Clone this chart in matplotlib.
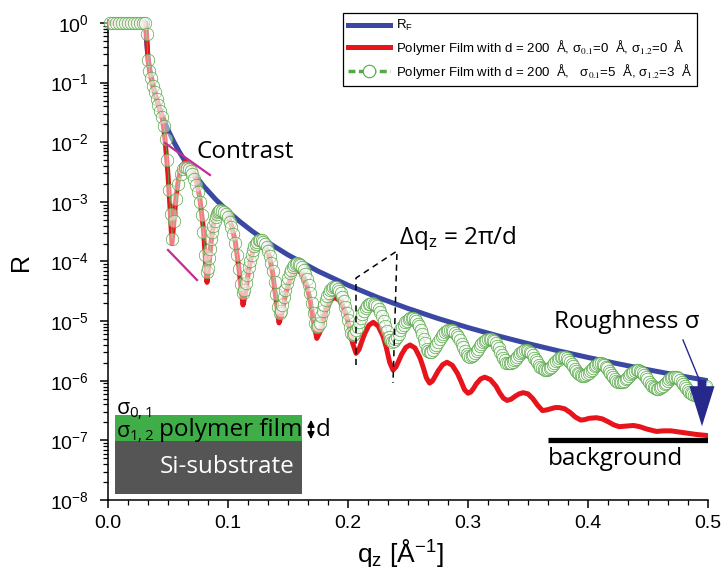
import matplotlib
matplotlib.use("Agg")
import matplotlib.pyplot as plt
import numpy as np
from matplotlib.patches import Rectangle, FancyArrowPatch
from matplotlib.lines import Line2D

plt.rcParams['font.family'] = ['Liberation Sans', 'DejaVu Sans']
plt.rcParams['mathtext.fontset'] = 'stix'
plt.rcParams['mathtext.default'] = 'regular'

# ---------------- data ----------------
# Fresnel reflectivity of the bare substrate
q_rf = [0.0, 0.0316, 0.0318, 0.032, 0.033, 0.0335, 0.034, 0.035, 0.0375, 0.04, 0.0425,
        0.045, 0.05, 0.055, 0.06, 0.065, 0.07, 0.08, 0.09, 0.10, 0.11, 0.12, 0.135,
        0.15, 0.175, 0.20, 0.225, 0.25, 0.275, 0.30, 0.325, 0.35, 0.375, 0.40,
        0.425, 0.45, 0.475, 0.50]
r_rf = [1.0, 1.0, 0.655, 0.539, 0.3086, 0.2537, 0.2141, 0.16, 0.0904, 0.0578, 0.03958,
        0.0284, 0.01613, 0.0100, 0.00659, 0.004544, 0.00325, 0.001805, 0.001085, 6.93e-4,
        4.648e-4, 3.24e-4, 1.99e-4, 1.29e-4, 6.89e-5, 4.01e-5, 2.487e-5, 1.63e-5,
        1.107e-5, 7.80e-6, 5.655e-6, 4.20e-6, 3.184e-6, 2.46e-6, 1.926e-6, 1.53e-6,
        1.232e-6, 1.00e-6]

# film without roughness (log10 R)
q_smooth = [0.000, 0.031, 0.0318, 0.0325, 0.0333, 0.035, 0.0375, 0.040, 0.043, 0.0455,
            0.0475, 0.050, 0.0517, 0.0533,
            0.0551, 0.0569, 0.0588, 0.0615, 0.0642,
            0.0688, 0.0734, 0.0764, 0.0795, 0.0825,
            0.0843, 0.0861, 0.0879, 0.0906, 0.0933,
            0.0981, 0.1029, 0.1061, 0.1093, 0.1125,
            0.1149, 0.1172, 0.1196, 0.1231, 0.1267,
            0.1307, 0.1346, 0.1372, 0.1399, 0.1425,
            0.1450, 0.1475, 0.1500, 0.1538, 0.1575,
            0.1616, 0.1658, 0.1685, 0.1713, 0.1740,
            0.1765, 0.1790, 0.1815, 0.1853, 0.1890,
            0.1934, 0.1979, 0.2008, 0.2037, 0.2067,
            0.2091, 0.2115, 0.2139, 0.2174, 0.2210,
            0.2251, 0.2293, 0.2320, 0.2347, 0.2375,
            0.2399, 0.2422, 0.2446, 0.2482, 0.2517,
            0.2558, 0.2599, 0.2626, 0.2653, 0.2680,
            0.2704, 0.2728, 0.2753, 0.2789, 0.2825,
            0.2869, 0.2913, 0.2942, 0.2971, 0.3000,
            0.3023, 0.3047, 0.3070, 0.3105, 0.3140,
            0.3186, 0.3233, 0.3263, 0.3294, 0.3325,
            0.3359, 0.3393, 0.3426, 0.3460,
            0.3500, 0.3540, 0.3580, 0.3620,
            0.3655, 0.3690, 0.3725, 0.3760,
            0.3805, 0.3850, 0.3895, 0.3940,
            0.3975, 0.4010, 0.4070,
            0.4120, 0.4170, 0.4215, 0.4260,
            0.4320, 0.4380,
            0.4430, 0.4490, 0.4570,
            0.4630, 0.4690,
            0.4760, 0.4830, 0.4900, 0.5000]
lg_smooth = [0.0, 0.0, -0.10, -0.30, -0.62, -0.85, -1.07, -1.24, -1.45, -1.62,
             -1.95, -2.55, -3.10, -3.70,
             -3.30, -2.88, -2.61, -2.40, -2.33,
             -2.40, -2.63, -2.92, -3.45, -4.35,
             -4.02, -3.64, -3.38, -3.16, -3.10,
             -3.17, -3.39, -3.67, -4.15, -4.73,
             -4.49, -4.15, -3.91, -3.70, -3.64,
             -3.71, -3.92, -4.19, -4.62, -5.03,
             -4.87, -4.60, -4.39, -4.20, -4.14,
             -4.20, -4.41, -4.66, -5.02, -5.29,
             -5.19, -4.99, -4.82, -4.65, -4.60,
             -4.66, -4.85, -5.07, -5.36, -5.54,
             -5.48, -5.34, -5.21, -5.07, -5.02,
             -5.08, -5.26, -5.45, -5.69, -5.82,
             -5.77, -5.67, -5.56, -5.44, -5.40,
             -5.45, -5.61, -5.77, -5.95, -6.04,
             -6.005, -5.92, -5.83, -5.73, -5.69,
             -5.74, -5.88, -6.01, -6.15, -6.21,
             -6.19, -6.125, -6.05, -5.97, -5.94,
             -5.98, -6.09, -6.20, -6.29, -6.33,
             -6.31, -6.26, -6.22, -6.20,
             -6.22, -6.30, -6.41, -6.50,
             -6.49, -6.47, -6.45, -6.45,
             -6.47, -6.53, -6.61, -6.66,
             -6.65, -6.63, -6.62,
             -6.64, -6.69, -6.74, -6.77,
             -6.76, -6.75,
             -6.77, -6.81, -6.85,
             -6.84, -6.84,
             -6.86, -6.88, -6.90, -6.92]

# film with interface roughness (log10 R), main sampling
q_rough = [0.0020, 0.0045, 0.0070, 0.0095, 0.0120, 0.0145, 0.0170, 0.0195, 0.0220,
           0.0245, 0.0270, 0.0295, 0.0310,
           0.0322, 0.0333, 0.0345, 0.0360, 0.0375, 0.0390, 0.0405, 0.0420, 0.0435,
           0.0450, 0.0465, 0.0480, 0.0495, 0.0510, 0.0522, 0.0533,
           0.0551, 0.0569, 0.0587, 0.0606, 0.0624, 0.0642,
           0.0673, 0.0703, 0.0734, 0.0764, 0.0795, 0.0825,
           0.0843, 0.0861, 0.0879, 0.0897, 0.0915, 0.0933,
           0.0965, 0.0997, 0.1029, 0.1061, 0.1093, 0.1125,
           0.1149, 0.1172, 0.1196, 0.1220, 0.1243, 0.1267,
           0.1294, 0.1321, 0.1349, 0.1376, 0.1403, 0.1430,
           0.1454, 0.1478, 0.1503, 0.1527, 0.1551, 0.1575,
           0.1603, 0.1630, 0.1658, 0.1685, 0.1713, 0.1740,
           0.1765, 0.1790, 0.1815, 0.1840, 0.1865, 0.1890,
           0.1915, 0.1940, 0.1965, 0.1990, 0.2015, 0.2040,
           0.2067, 0.2093, 0.2120, 0.2147, 0.2173, 0.2200,
           0.2228, 0.2256, 0.2284, 0.2311, 0.2339, 0.2367,
           0.2395, 0.2422, 0.2450, 0.2478, 0.2505, 0.2533,
           0.2558, 0.2582, 0.2607, 0.2631, 0.2656, 0.2680,
           0.2708, 0.2737, 0.2765, 0.2793, 0.2822, 0.2850,
           0.2878, 0.2906, 0.2934, 0.2961, 0.2989, 0.3017,
           0.3044, 0.3071, 0.3099, 0.3126, 0.3153, 0.3180,
           0.3206, 0.3231, 0.3257, 0.3282, 0.3308,
           0.3333, 0.3359, 0.3385, 0.3410, 0.3436, 0.3462, 0.3488, 0.3514, 0.3540,
           0.3565, 0.3591, 0.3617, 0.3643, 0.3669, 0.3695, 0.3720, 0.3746, 0.3772,
           0.3798, 0.3824, 0.3850, 0.3875, 0.3901, 0.3927, 0.3953, 0.3979, 0.4005,
           0.4030, 0.4056, 0.4082, 0.4108, 0.4134, 0.4160, 0.4185, 0.4211, 0.4237,
           0.4263, 0.4289, 0.4315, 0.4340, 0.4366, 0.4392, 0.4418, 0.4444, 0.4470,
           0.4495, 0.4521, 0.4547, 0.4573, 0.4599, 0.4625, 0.4650, 0.4676, 0.4702,
           0.4728, 0.4754, 0.4780, 0.4805, 0.4831, 0.4857, 0.4883, 0.4909, 0.4935,
           0.4960, 0.4986]
lg_rough = [0.0, 0.0, 0.0, 0.0, 0.0, 0.0, 0.0, 0.0, 0.0, 0.0, 0.0, 0.0, 0.0,
            -0.18, -0.62, -0.80, -0.93, -1.05, -1.16, -1.27, -1.37, -1.47,
            -1.58, -1.72, -1.95, -2.30, -2.80, -3.20, -3.62,
            -3.32, -2.947, -2.695, -2.536, -2.448, -2.42,
            -2.45, -2.54, -2.71, -3.00, -3.50, -4.18,
            -3.94, -3.63, -3.40, -3.25, -3.167, -3.14,
            -3.169, -3.259, -3.424, -3.692, -4.119, -4.53,
            -4.36, -4.10, -3.889, -3.747, -3.666, -3.64,
            -3.668, -3.756, -3.915, -4.167, -4.54, -4.87,
            -4.73, -4.479, -4.274, -4.135, -4.056, -4.03,
            -4.057, -4.142, -4.295, -4.53, -4.86, -5.10,
            -5.027, -4.828, -4.652, -4.527, -4.454, -4.43,
            -4.455, -4.532, -4.666, -4.86, -5.10, -5.23,
            -5.141, -5.012, -4.882, -4.781, -4.72, -4.70,
            -4.723, -4.794, -4.913, -5.078, -5.259, -5.35,
            -5.308, -5.211, -5.106, -5.021, -4.968, -4.95,
            -4.972, -5.04, -5.154, -5.308, -5.471, -5.52,
            -5.482, -5.394, -5.296, -5.217, -5.167, -5.15,
            -5.169, -5.226, -5.319, -5.437, -5.55, -5.60,
            -5.572, -5.504, -5.425, -5.358, -5.315, -5.30,
            -5.318, -5.371, -5.456, -5.562, -5.660,
            -5.710, -5.700, -5.658, -5.597, -5.537, -5.495, -5.486, -5.513, -5.573,
            -5.651, -5.729, -5.788, -5.816, -5.806, -5.765, -5.706, -5.647, -5.607,
            -5.598, -5.625, -5.684, -5.760, -5.836, -5.894, -5.921, -5.912, -5.872,
            -5.814, -5.757, -5.717, -5.709, -5.736, -5.793, -5.868, -5.943, -5.999,
            -6.027, -6.018, -5.979, -5.923, -5.867, -5.829, -5.821, -5.847, -5.904,
            -5.977, -6.050, -6.106, -6.132, -6.123, -6.086, -6.031, -5.977, -5.940,
            -5.932, -5.958, -6.013, -6.085, -6.157, -6.211, -6.237, -6.230, -6.193,
            -6.140, -6.087]

# film with interface roughness, intermediate samples
q_rough_mid = [0.06573, 0.06878, 0.07183, 0.07488, 0.07793, 0.08098,
               0.0834, 0.0852, 0.0870, 0.0888, 0.0906, 0.0924,
               0.0949, 0.0981, 0.1013, 0.1045, 0.1077, 0.1109,
               0.11369, 0.11606, 0.11843, 0.12080, 0.12316, 0.12553,
               0.12806, 0.13078, 0.1335, 0.13621, 0.13893, 0.14164,
               0.14421, 0.14663, 0.14904, 0.15146, 0.15388, 0.15629,
               0.15888, 0.16163, 0.16438, 0.16713, 0.16988, 0.17263,
               0.17525, 0.17775, 0.18025, 0.18275, 0.18525, 0.18775,
               0.19025, 0.19275, 0.19525, 0.19775, 0.20025, 0.20275,
               0.20533, 0.2080, 0.21067, 0.21333, 0.2160, 0.21867,
               0.22139, 0.22417, 0.22696, 0.22974, 0.23253, 0.23531,
               0.23808, 0.24085, 0.24362, 0.24638, 0.24915, 0.25192,
               0.25453, 0.25698, 0.25943, 0.26188, 0.26433, 0.26678,
               0.26942, 0.27225, 0.27508, 0.27792, 0.28075, 0.28358,
               0.28639, 0.28917, 0.29196, 0.29474, 0.29753, 0.30031,
               0.30306, 0.30578, 0.3085, 0.31122, 0.31394, 0.31666,
               0.31928, 0.32183, 0.32438, 0.32693, 0.32948, 0.33203,
               0.3346, 0.3372, 0.3398, 0.3423, 0.3449, 0.3475, 0.3501, 0.3527,
               0.3553, 0.3578, 0.3604, 0.3630, 0.3656, 0.3682, 0.3708, 0.3733,
               0.3759, 0.3785, 0.3811, 0.3837, 0.3863, 0.3888, 0.3914, 0.3940,
               0.3966, 0.3992, 0.4018, 0.4043, 0.4069, 0.4095, 0.4121, 0.4147,
               0.4173, 0.4198, 0.4224, 0.4250, 0.4276, 0.4302, 0.4328, 0.4353,
               0.4379, 0.4405, 0.4431, 0.4457, 0.4483, 0.4508, 0.4534, 0.4560,
               0.4586, 0.4612, 0.4638, 0.4663, 0.4689, 0.4715, 0.4741, 0.4767,
               0.4793, 0.4818, 0.4844, 0.4870, 0.4896, 0.4922, 0.4948, 0.4973]
lg_rough_mid = [-2.427, -2.487, -2.617, -2.838, -3.214, -3.887,
                -4.112, -3.790, -3.508, -3.319, -3.202, -3.147,
                -3.147, -3.206, -3.331, -3.542, -3.883, -4.384,
                -4.483, -4.232, -3.985, -3.810, -3.699, -3.647,
                -3.647, -3.704, -3.827, -4.029, -4.347, -4.766,
                -4.829, -4.600, -4.365, -4.196, -4.088, -4.036,
                -4.037, -4.092, -4.210, -4.402, -4.690, -5.027,
                -5.074, -4.913, -4.726, -4.580, -4.483, -4.436,
                -4.436, -4.487, -4.593, -4.757, -4.981, -5.193,
                -5.213, -5.100, -4.955, -4.832, -4.747, -4.705,
                -4.706, -4.752, -4.847, -4.991, -5.172, -5.325,
                -5.339, -5.263, -5.157, -5.060, -4.990, -4.955,
                -4.955, -4.999, -5.087, -5.217, -5.375, -5.500,
                -5.510, -5.442, -5.344, -5.254, -5.188, -5.154,
                -5.155, -5.193, -5.269, -5.376, -5.498, -5.587,
                -5.593, -5.541, -5.464, -5.389, -5.333, -5.304,
                -5.305, -5.341, -5.412, -5.511, -5.620, -5.699,
                -5.710, -5.682, -5.629, -5.566, -5.513, -5.486, -5.495, -5.540,
                -5.611, -5.692, -5.762, -5.806, -5.815, -5.789, -5.736, -5.675,
                -5.623, -5.597, -5.607, -5.651, -5.721, -5.799, -5.868, -5.912,
                -5.921, -5.895, -5.844, -5.784, -5.734, -5.709, -5.718, -5.762,
                -5.830, -5.907, -5.975, -6.017, -6.026, -6.001, -5.952, -5.893,
                -5.845, -5.820, -5.830, -5.872, -5.939, -6.015, -6.081, -6.123,
                -6.132, -6.107, -6.059, -6.003, -5.955, -5.932, -5.941, -5.983,
                -6.048, -6.122, -6.187, -6.228, -6.237, -6.214, -6.167, -6.112]

bg_q = [0.367, 0.5]
bg_level = 1e-7

legend_labels = [
    r"R$_F$",
    r"Polymer Film with d = 200  Å, $\sigma_{\mathrm{0.1}}$=0  Å, $\sigma_{\mathrm{1.2}}$=0  Å",
    r"Polymer Film with d = 200  Å,   $\sigma_{\mathrm{0.1}}$=5  Å, $\sigma_{\mathrm{1.2}}$=3  Å",
]

# ---------------- figure ----------------
W, H = 723, 580
fig = plt.figure(figsize=(W / 100, H / 100), dpi=100)


def fx(p):
    return p / W


def fy(p):
    return 1 - p / H


ax = fig.add_axes([fx(108), fy(500), fx(708) - fx(108), fy(20) - fy(500)])
ax.set_yscale('log')
ax.set_xlim(0, 0.5)
ax.set_ylim(1e-8, 10 ** 0.05)

BLUE = '#3b48a3'
RED = '#e8141c'
GREEN = '#55a846'

q_g = np.concatenate([q_rough, q_rough_mid])
lg_g = np.concatenate([lg_rough, lg_rough_mid])
order = np.argsort(q_g)
q_g, lg_g = q_g[order], lg_g[order]

ax.plot(q_rf, r_rf, color=BLUE, lw=3.6, solid_capstyle='butt', zorder=2)
ax.plot(q_smooth, 10 ** np.array(lg_smooth), color=RED, lw=3.6, zorder=3)
ax.plot(q_g, 10 ** lg_g, color=GREEN, lw=0.6, marker='o',
        markersize=9, markerfacecolor=(1, 1, 1, 0.45), markeredgecolor=GREEN,
        markeredgewidth=0.5, zorder=4, clip_on=False)
ax.plot(bg_q, [bg_level, bg_level], color='black', lw=3.8, solid_capstyle='butt', zorder=5)

for s in ('top', 'right'):
    ax.spines[s].set_visible(False)
for s in ('left', 'bottom'):
    ax.spines[s].set_linewidth(1.1)

ax.set_xticks([0.0, 0.1, 0.2, 0.3, 0.4, 0.5])
ax.set_xticklabels(['0.0', '0.1', '0.2', '0.3', '0.4', '0.5'])
ax.xaxis.set_minor_locator(matplotlib.ticker.MultipleLocator(0.1 / 6))
ax.yaxis.set_major_locator(matplotlib.ticker.LogLocator(base=10, numticks=20))
ax.yaxis.set_minor_locator(matplotlib.ticker.LogLocator(base=10, subs=np.arange(2, 10), numticks=20))
ax.yaxis.set_minor_formatter(matplotlib.ticker.NullFormatter())
ax.tick_params(which='major', direction='out', length=6, width=1.1, labelsize=14)
ax.tick_params(axis='y', which='major', pad=8)
ax.tick_params(axis='x', which='major', pad=5)
ax.tick_params(which='minor', direction='out', length=3.5, width=0.9)

fig.text(fx(21), fy(262), 'R', fontsize=18, ha='center', va='center', rotation=90)
fig.text(fx(400), fy(553), r'q$_z$ [Å$^{-1}$]', fontsize=19, ha='center', va='center')

# legend
handles = [
    Line2D([], [], color=BLUE, lw=3.6),
    Line2D([], [], color=RED, lw=3.6),
    Line2D([], [], color=GREEN, lw=2.5, ls=(0, (2, 1)), marker='o', markersize=9,
           markerfacecolor='white', markeredgecolor=GREEN, markeredgewidth=0.8),
]
leg = fig.legend(handles, legend_labels, loc='upper right',
                 bbox_to_anchor=(fx(697), fy(13)), fontsize=9.5, frameon=True,
                 fancybox=False, edgecolor='black', framealpha=1, borderaxespad=0,
                 handlelength=3.2, handletextpad=0.4, labelspacing=0.35,
                 borderpad=0.4)
leg.get_frame().set_linewidth(0.9)

# annotations
ANN = ['Open Sans', 'DejaVu Sans']
FS = 17.5
PINK = '#c42b94'
fig.add_artist(Line2D([fx(165), fx(210)], [fy(143), fy(175)], color=PINK, lw=1.6))
fig.add_artist(Line2D([fx(168), fx(197)], [fy(250), fy(280)], color=PINK, lw=1.6))
fig.text(fx(196), fy(152), 'Contrast', fontsize=FS, family=ANN, ha='left', va='center')

fig.add_artist(Line2D([fx(356), fx(356), fx(397), fx(393)],
                      [fy(365), fy(278), fy(251), fy(383)],
                      color='black', lw=1.1, ls=(0, (4, 3))))
fig.text(fx(399), fy(238), r'$\Delta$q$_z$ = 2$\pi$/d', fontsize=FS, family=ANN,
         ha='left', va='center')

fig.text(fx(627), fy(322), 'Roughness σ', fontsize=FS, family=ANN, ha='center', va='center')
NAVY = '#27288c'
fig.add_artist(Line2D([fx(683), fx(701)], [fy(340), fy(384)], color=NAVY, lw=1.0))
fig.add_artist(FancyArrowPatch((fx(702), fy(377)), (fx(702), fy(429)),
                               transform=fig.transFigure,
                               arrowstyle='simple,head_length=1.6,head_width=1.0,tail_width=0.35',
                               mutation_scale=18, color=NAVY, lw=0))
fig.text(fx(616), fy(459), 'background', fontsize=FS, family=ANN, ha='center', va='center')

# layer sketch
fig.add_artist(Rectangle((fx(115), fy(441)), fx(302) - fx(115), fy(415) - fy(441),
                         transform=fig.transFigure, facecolor='#3fae48', edgecolor='none', zorder=6))
fig.add_artist(Rectangle((fx(115), fy(494)), fx(302) - fx(115), fy(441) - fy(494),
                         transform=fig.transFigure, facecolor='#555555', edgecolor='none', zorder=6))
fig.text(fx(116), fy(411), r'σ$_{0,1}$', fontsize=15.5, family=ANN, ha='left',
         va='center', zorder=7)
fig.text(fx(116), fy(434), r'σ$_{1,2}$', fontsize=15.5, family=ANN, ha='left',
         va='center', zorder=7)
fig.text(fx(231), fy(430), 'polymer film', fontsize=FS, family=ANN, ha='center',
         va='center', zorder=7)
fig.text(fx(227), fy(467), 'Si-substrate', fontsize=FS, family=ANN, color='white',
         ha='center', va='center', zorder=7)
fig.add_artist(FancyArrowPatch((fx(311), fy(417)), (fx(311), fy(442)),
                               transform=fig.transFigure,
                               arrowstyle='<|-|>,head_length=0.4,head_width=0.2',
                               mutation_scale=10, color='black', lw=1.2))
fig.text(fx(316), fy(430), 'd', fontsize=FS, family=ANN, ha='left', va='center')

fig.savefig('out.png', dpi=100)
